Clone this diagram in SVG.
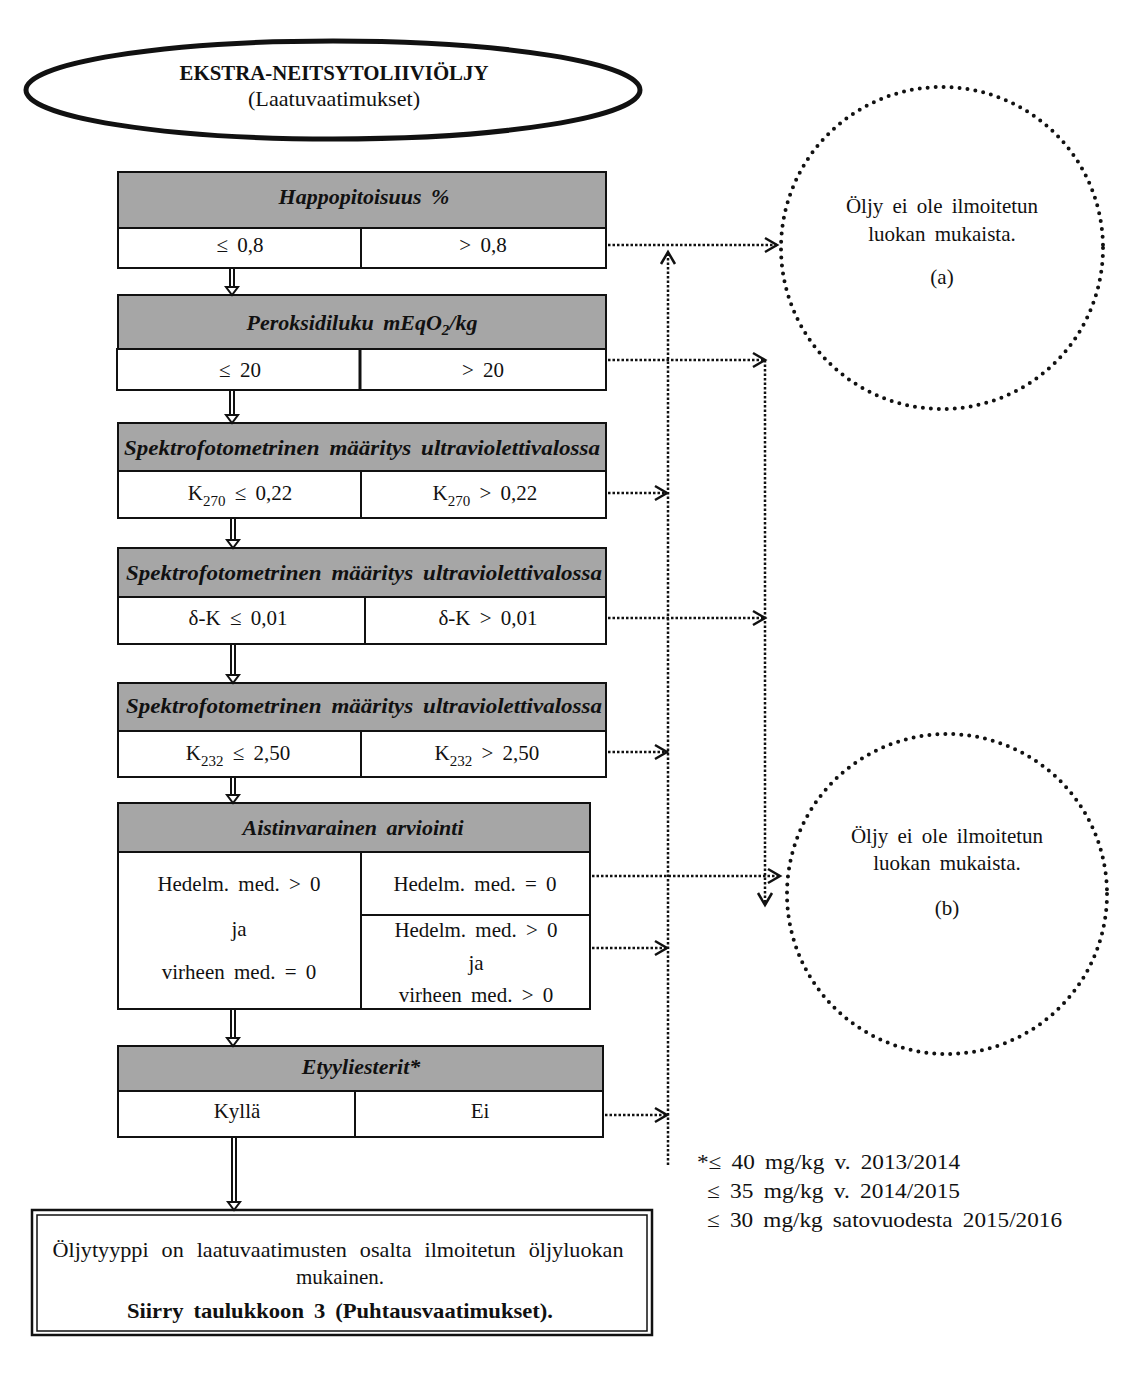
<svg xmlns="http://www.w3.org/2000/svg" width="1124" height="1381" viewBox="0 0 1124 1381">
<style>
text{font-family:"Liberation Serif","DejaVu Serif",serif;font-size:21px;fill:#111;word-spacing:4px}
.c{text-anchor:middle}
.h{font-weight:bold;font-style:italic;font-size:22px}
.b{font-weight:bold}
.box{fill:#fff;stroke:#111;stroke-width:2}
.hd{fill:#a6a6a6;stroke:#111;stroke-width:2}
.ln{stroke:#111;stroke-width:2;fill:none}
.dot{stroke:#111;stroke-width:2.5;stroke-dasharray:2.5 2;fill:none}
.circ{stroke:#111;stroke-width:4;stroke-dasharray:0 8;stroke-linecap:round;fill:none}
.dbl{stroke:#111;stroke-width:2;fill:none}
.tri{fill:#fff;stroke:#111;stroke-width:2}
</style>
<defs>
<marker id="chev" markerUnits="userSpaceOnUse" markerWidth="16" markerHeight="18" refX="13" refY="8" orient="auto" overflow="visible">
<path d="M1,1 L13,8 L1,15" fill="none" stroke="#111" stroke-width="2.5"/>
</marker>
</defs>
<rect width="1124" height="1381" fill="#fff"/>

<g id="title">
<ellipse cx="333" cy="90" rx="307" ry="49" fill="#fff" stroke="#111" stroke-width="5"/>
<text class="c b" x="334" y="80" textLength="309" lengthAdjust="spacingAndGlyphs">EKSTRA-NEITSYTOLIIVIÖLJY</text>
<text class="c" x="334" y="106" textLength="172" lengthAdjust="spacingAndGlyphs">(Laatuvaatimukset)</text>
</g>

<g id="n1">
<rect class="hd" x="118" y="172" width="488" height="56"/>
<rect class="box" x="118" y="228" width="488" height="40"/>
<line class="ln" x1="361" y1="228" x2="361" y2="268"/>
<text class="c h" x="364" y="204">Happopitoisuus %</text>
<text class="c" x="240" y="252">≤ 0,8</text>
<text class="c" x="483" y="252">&gt; 0,8</text>
</g>

<g id="n2">
<rect class="hd" x="118" y="295" width="488" height="54"/>
<rect class="box" x="117" y="349" width="489" height="41"/>
<line class="ln" x1="360" y1="349" x2="360" y2="390" style="stroke-width:3"/>
<text class="c h" x="362" y="330">Peroksidiluku mEqO<tspan font-size="15" dy="5">2</tspan><tspan dy="-5">/kg</tspan></text>
<text class="c" x="240" y="377">≤ 20</text>
<text class="c" x="483" y="377">&gt; 20</text>
</g>

<g id="n3">
<rect class="hd" x="118" y="423" width="488" height="48"/>
<rect class="box" x="118" y="471" width="488" height="47"/>
<line class="ln" x1="361" y1="471" x2="361" y2="518"/>
<text class="c h" x="362" y="455" textLength="476" lengthAdjust="spacingAndGlyphs">Spektrofotometrinen määritys ultraviolettivalossa</text>
<text class="c" x="240" y="500">K<tspan font-size="15" dy="6">270</tspan><tspan dy="-6"> ≤ 0,22</tspan></text>
<text class="c" x="485" y="500">K<tspan font-size="15" dy="6">270</tspan><tspan dy="-6"> &gt; 0,22</tspan></text>
</g>

<g id="n4">
<rect class="hd" x="118" y="548" width="488" height="49"/>
<rect class="box" x="118" y="597" width="488" height="47"/>
<line class="ln" x1="365" y1="597" x2="365" y2="644"/>
<text class="c h" x="364" y="580" textLength="476" lengthAdjust="spacingAndGlyphs">Spektrofotometrinen määritys ultraviolettivalossa</text>
<text class="c" x="238" y="625">δ-K ≤ 0,01</text>
<text class="c" x="488" y="625">δ-K &gt; 0,01</text>
</g>

<g id="n5">
<rect class="hd" x="118" y="683" width="488" height="48"/>
<rect class="box" x="118" y="731" width="488" height="46"/>
<line class="ln" x1="361" y1="731" x2="361" y2="777"/>
<text class="c h" x="364" y="713" textLength="476" lengthAdjust="spacingAndGlyphs">Spektrofotometrinen määritys ultraviolettivalossa</text>
<text class="c" x="238" y="760">K<tspan font-size="15" dy="6">232</tspan><tspan dy="-6"> ≤ 2,50</tspan></text>
<text class="c" x="487" y="760">K<tspan font-size="15" dy="6">232</tspan><tspan dy="-6"> &gt; 2,50</tspan></text>
</g>

<g id="n6">
<rect class="hd" x="118" y="803" width="472" height="49"/>
<rect class="box" x="118" y="852" width="472" height="157"/>
<line class="ln" x1="361" y1="852" x2="361" y2="1009"/>
<line class="ln" x1="361" y1="915" x2="590" y2="915"/>
<text class="c h" x="353" y="835">Aistinvarainen arviointi</text>
<text class="c" x="239" y="891">Hedelm. med. &gt; 0</text>
<text class="c" x="239" y="936">ja</text>
<text class="c" x="239" y="979">virheen med. = 0</text>
<text class="c" x="475" y="891">Hedelm. med. = 0</text>
<text class="c" x="476" y="937">Hedelm. med. &gt; 0</text>
<text class="c" x="476" y="970">ja</text>
<text class="c" x="476" y="1002">virheen med. &gt; 0</text>
</g>

<g id="n7">
<rect class="hd" x="118" y="1046" width="485" height="45"/>
<rect class="box" x="118" y="1091" width="485" height="46"/>
<line class="ln" x1="355" y1="1091" x2="355" y2="1137"/>
<text class="c h" x="361" y="1074">Etyyliesterit*</text>
<text class="c" x="237" y="1118">Kyllä</text>
<text class="c" x="480" y="1118">Ei</text>
</g>

<g id="result">
<rect x="32" y="1210" width="620" height="125" fill="#fff" stroke="#111" stroke-width="2.5"/>
<rect x="37" y="1215" width="610" height="116" fill="none" stroke="#111" stroke-width="1.5"/>
<text class="c" x="338" y="1257" textLength="571" lengthAdjust="spacingAndGlyphs" style="word-spacing:7px">Öljytyyppi on laatuvaatimusten osalta ilmoitetun öljyluokan</text>
<text class="c" x="340" y="1284">mukainen.</text>
<text class="c b" x="340" y="1318" textLength="426" lengthAdjust="spacingAndGlyphs">Siirry taulukkoon 3 (Puhtausvaatimukset).</text>
</g>

<g id="outA">
<circle class="circ" cx="942" cy="248" r="161"/>
<text class="c" x="942" y="213">Öljy ei ole ilmoitetun</text>
<text class="c" x="942" y="241">luokan mukaista.</text>
<text class="c" x="942" y="284">(a)</text>
</g>

<g id="outB">
<circle class="circ" cx="947" cy="894" r="160"/>
<text class="c" x="947" y="843">Öljy ei ole ilmoitetun</text>
<text class="c" x="947" y="870">luokan mukaista.</text>
<text class="c" x="947" y="915">(b)</text>
</g>

<g id="footnote">
<text x="697" y="1169" textLength="263" lengthAdjust="spacingAndGlyphs">*≤ 40 mg/kg v. 2013/2014</text>
<text x="707" y="1198" textLength="253" lengthAdjust="spacingAndGlyphs">≤ 35 mg/kg v. 2014/2015</text>
<text x="707" y="1227" textLength="355" lengthAdjust="spacingAndGlyphs">≤ 30 mg/kg satovuodesta 2015/2016</text>
</g>

<g id="connectors">
<g>
<path class="dbl" d="M230,268 V287 M234,268 V287"/><polygon class="tri" points="226,287 238,287 232,295"/>
<path class="dbl" d="M230,390 V415 M234,390 V415"/><polygon class="tri" points="226,415 238,415 232,423"/>
<path class="dbl" d="M231,518 V540 M235,518 V540"/><polygon class="tri" points="227,540 239,540 233,548"/>
<path class="dbl" d="M231,644 V675 M235,644 V675"/><polygon class="tri" points="227,675 239,675 233,683"/>
<path class="dbl" d="M231,777 V795 M235,777 V795"/><polygon class="tri" points="227,795 239,795 233,803"/>
<path class="dbl" d="M231,1009 V1038 M235,1009 V1038"/><polygon class="tri" points="227,1038 239,1038 233,1046"/>
<path class="dbl" d="M232,1137 V1202 M236,1137 V1202"/><polygon class="tri" points="228,1202 240,1202 234,1210"/>
</g>
<path class="dot" d="M608,245 H777" marker-end="url(#chev)"/>
<path class="dot" d="M668,1165 V252" marker-end="url(#chev)"/>
<path class="dot" d="M608,360 H765" marker-end="url(#chev)"/>
<path class="dot" d="M765,360 V905" marker-end="url(#chev)"/>
<path class="dot" d="M608,493 H667" marker-end="url(#chev)"/>
<path class="dot" d="M608,618 H765" marker-end="url(#chev)"/>
<path class="dot" d="M608,752 H667" marker-end="url(#chev)"/>
<path class="dot" d="M592,876 H780" marker-end="url(#chev)"/>
<path class="dot" d="M592,948 H667" marker-end="url(#chev)"/>
<path class="dot" d="M605,1115 H667" marker-end="url(#chev)"/>
</g>
</svg>
